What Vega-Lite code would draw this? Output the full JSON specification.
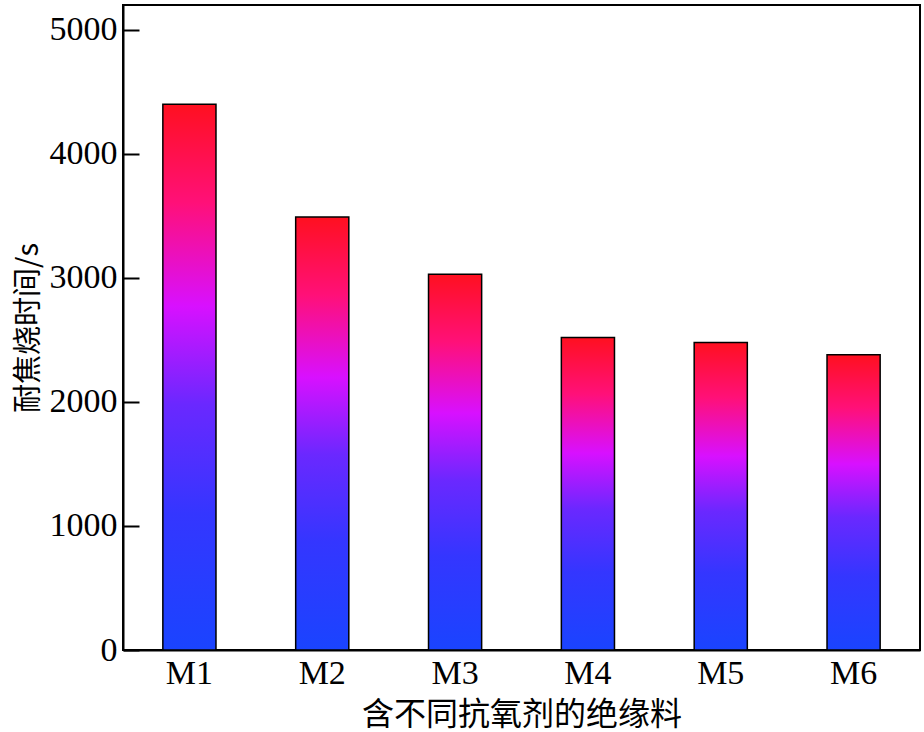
{
  "$schema": "https://vega.github.io/schema/vega-lite/v6.json",
  "width": 797,
  "height": 645,
  "autosize": {"type": "none"},
  "padding": {"left": 123, "top": 5, "right": 4, "bottom": 82},
  "background": "white",
  "config": {
    "view": {"stroke": "black", "strokeWidth": 2},
    "axis": {"domainColor": "black", "domainWidth": 2, "tickColor": "black", "grid": false,
             "labelFont": "Liberation Serif", "labelColor": "black", "titleColor": "black"}
  },
  "data": {"values": [
    {"sample": "M1", "time": 4400},
    {"sample": "M2", "time": 3490},
    {"sample": "M3", "time": 3030},
    {"sample": "M4", "time": 2520},
    {"sample": "M5", "time": 2480},
    {"sample": "M6", "time": 2380}
  ]},
  "mark": {
    "type": "bar",
    "stroke": "black",
    "strokeWidth": 1.5,
    "color": {
      "gradient": "linear",
      "x1": 0, "y1": 1, "x2": 0, "y2": 0,
      "stops": [
        {"offset": 0, "color": "#1a44ff"},
        {"offset": 0.25, "color": "#3436ff"},
        {"offset": 0.45, "color": "#6a28ff"},
        {"offset": 0.63, "color": "#d810ff"},
        {"offset": 0.82, "color": "#ff1078"},
        {"offset": 1, "color": "#ff1020"}
      ]
    }
  },
  "encoding": {
    "x": {
      "field": "sample", "type": "nominal", "sort": null,
      "scale": {"paddingInner": 0.6, "paddingOuter": 0.3},
      "axis": {
        "title": "含不同抗氧剂的绝缘料", "labelAngle": 0, "ticks": false,
        "labelFontSize": 34, "labelPadding": 6,
        "titleFont": "Noto Sans CJK SC", "titleFontSize": 32, "titleFontWeight": "normal",
        "titlePadding": 9
      }
    },
    "y": {
      "field": "time", "type": "quantitative",
      "scale": {"domain": [0, 5200], "nice": false},
      "axis": {
        "title": "耐焦烧时间/s", "values": [0, 1000, 2000, 3000, 4000, 5000], "format": "d",
        "tickSize": -16, "tickWidth": 2, "labelPadding": 22,
        "labelFontSize": 34,
        "titleFont": "Noto Sans CJK SC", "titleFontSize": 29, "titleFontWeight": "normal",
        "titlePadding": 6
      }
    }
  }
}
